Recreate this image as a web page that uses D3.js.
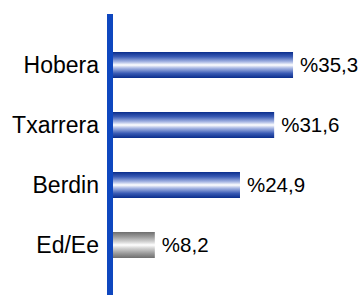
<!DOCTYPE html>
<html lang="eu">
<head>
    <meta charset="UTF-8">
    <title>Hobera / Txarrera</title>
    <script src="https://cdnjs.cloudflare.com/ajax/libs/d3/7.8.5/d3.min.js"></script>
    <style>
        html, body { margin: 0; padding: 0; background: #fff; }
        svg { display: block; font-family: Arial, "Liberation Sans", sans-serif; }
        .cat { font-size: 23px; fill: #000; }
        .val { font-size: 20.5px; fill: #000; }
    </style>
</head>
<body>
    <svg width="363" height="295"></svg>

    <script>
        // data
        const categories = ["Hobera", "Txarrera", "Berdin", "Ed/Ee"];
        const values = [35.3, 31.6, 24.9, 8.2];
        const labels = ["%35,3", "%31,6", "%24,9", "%8,2"];
        const grey = [false, false, false, true];

        const svg = d3.select("svg");
        const defs = svg.append("defs");

        function gradient(id, edge, mid, light) {
            let g = defs.append("linearGradient")
                .attr("id", id)
                .attr("x1", 0).attr("y1", 0).attr("x2", 0).attr("y2", 1);
            [[0, edge], [0.18, mid], [0.38, light], [0.5, "#ffffff"], [0.62, light], [0.82, mid], [1, edge]]
                .forEach(s => g.append("stop").attr("offset", s[0]).attr("stop-color", s[1]));
        }
        gradient("blueGrad", "#0a2d8c", "#3a5bb5", "#a9b8e4");
        gradient("greyGrad", "#6e6e6e", "#9a9a9a", "#d4d4d4");

        let x = d3.scaleLinear().domain([0, 40]).range([113, 317]);
        let y = d3.scaleBand().domain(categories).range([35, 275]);
        let barH = 26;
        let cy = d => y(d) + y.bandwidth() / 2;

        let rows = categories.map((c, i) => ({ c, v: values[i], label: labels[i], grey: grey[i] }));

        svg.selectAll(".bar")
            .data(rows)
            .enter()
            .append("rect")
            .attr("class", "bar")
            .attr("x", x(0))
            .attr("y", d => cy(d.c) - barH / 2)
            .attr("width", d => x(d.v) - x(0))
            .attr("height", barH)
            .attr("fill", d => d.grey ? "url(#greyGrad)" : "url(#blueGrad)");

        // vertical axis line
        svg.append("line")
            .attr("x1", x(0) - 3).attr("x2", x(0) - 3)
            .attr("y1", 14).attr("y2", 295)
            .attr("stroke", "#0f47bf")
            .attr("stroke-width", 6);

        svg.selectAll(".cat")
            .data(rows)
            .enter()
            .append("text")
            .attr("class", "cat")
            .attr("x", x(0) - 14)
            .attr("y", d => cy(d.c))
            .attr("dy", "0.35em")
            .attr("text-anchor", "end")
            .text(d => d.c);

        svg.selectAll(".val")
            .data(rows)
            .enter()
            .append("text")
            .attr("class", "val")
            .attr("x", d => x(d.v) + 7)
            .attr("y", d => cy(d.c))
            .attr("dy", "0.36em")
            .text(d => d.label);
    </script>
</body>
</html>
